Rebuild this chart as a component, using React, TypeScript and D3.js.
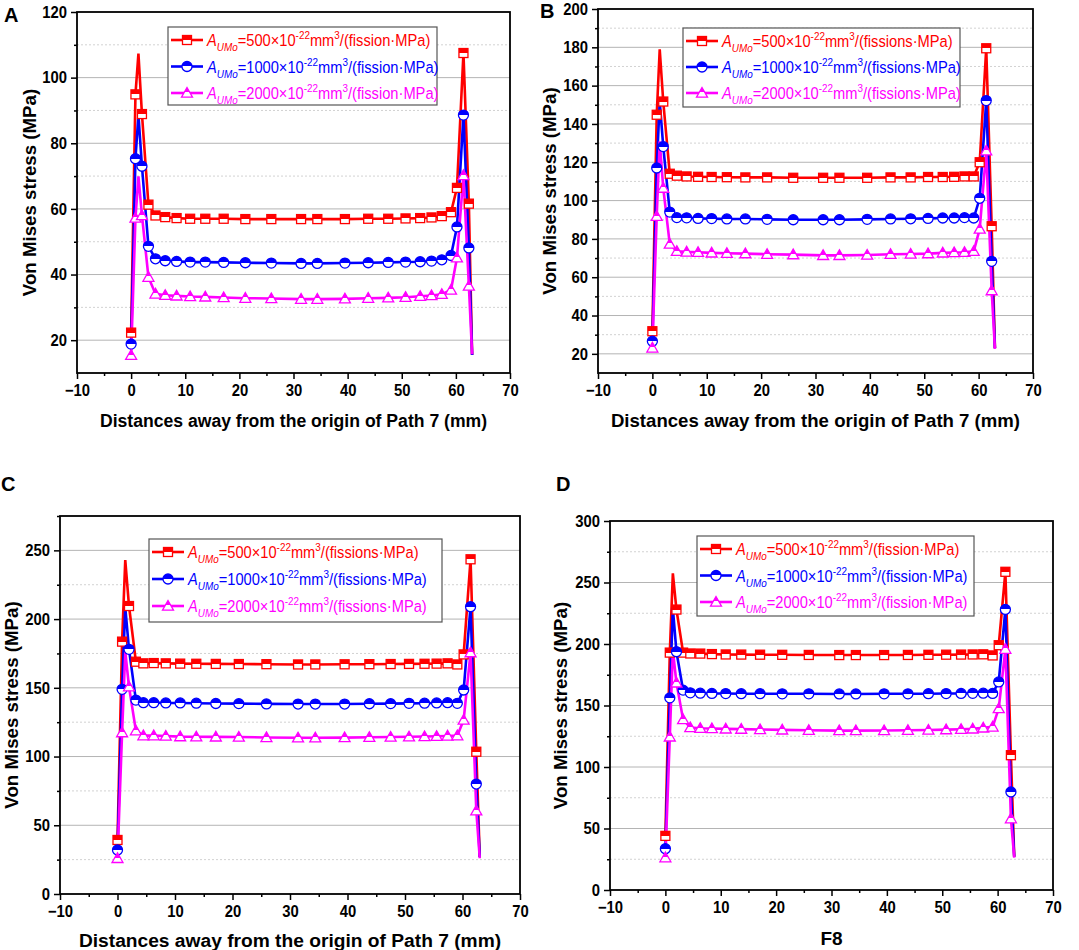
import { useRef, useEffect } from "react";
import * as d3 from "d3";

// distance along the path (mm) — shared by all panels
const xPoints = [0, 0.8, 1.35, 2, 3.2, 4.5, 6.3, 8.4, 10.9, 13.7, 17.1, 21.1, 25.9, 31.4, 34.4, 39.5, 43.8, 47.5, 50.7, 53.4, 55.5, 57.4, 59.1, 60.2, 61.4, 62.4, 63];
// points drawn by the line only (peak and end), no symbol
const noMarkerIdx = [2, 26];

const seriesColors = ["#ff0000", "#0000ff", "#ff00ff"];
const seriesShapes = ["square", "circle", "triangle"];
const aumoValues = ["500", "1000", "2000"];

// Panel A
const aRed = [22.3, 94.9, 107.3, 88.9, 61.3, 58.0, 57.5, 57.2, 57.0, 57.0, 57.0, 56.9, 56.9, 56.9, 56.9, 56.9, 57.0, 57.0, 57.1, 57.2, 57.4, 57.8, 59.0, 66.4, 107.5, 61.6, 15.5];
const aBlue = [18.8, 75.3, 88.6, 73.0, 48.6, 44.8, 44.2, 44.0, 43.8, 43.8, 43.7, 43.6, 43.5, 43.4, 43.4, 43.5, 43.6, 43.7, 43.8, 43.9, 44.1, 44.5, 45.8, 54.5, 88.6, 48.1, 15.5];
const aMagenta = [15.4, 57.2, 69.9, 58.0, 39.2, 34.1, 33.7, 33.5, 33.3, 33.2, 33.0, 32.8, 32.7, 32.5, 32.5, 32.6, 32.8, 32.9, 33.1, 33.4, 33.6, 34.0, 35.3, 45.1, 70.2, 36.5, 15.7];

// Panel B
const bRed = [31.8, 144.8, 179.0, 151.7, 114.0, 113.0, 112.6, 112.4, 112.3, 112.2, 112.1, 112.1, 111.9, 111.9, 111.9, 111.9, 112.1, 112.1, 112.3, 112.3, 112.4, 112.6, 112.6, 120.0, 179.5, 86.6, 23.0];
const bBlue = [26.6, 117.0, 151.7, 128.2, 94.0, 91.1, 91.0, 90.7, 90.6, 90.4, 90.4, 90.2, 90.0, 90.0, 90.0, 90.2, 90.4, 90.5, 90.7, 90.9, 90.9, 91.1, 90.9, 101.2, 152.2, 68.3, 23.0];
const bMagenta = [23.1, 91.8, 130.9, 106.5, 77.3, 73.5, 73.2, 73.0, 72.7, 72.5, 72.3, 72.0, 71.8, 71.4, 71.4, 71.6, 72.0, 72.1, 72.3, 72.7, 72.9, 73.0, 73.5, 85.2, 126.0, 53.0, 22.6];

// Panel C
const cRed = [39.3, 183.6, 243.0, 209.5, 169.0, 167.8, 168.0, 167.8, 167.6, 167.5, 167.4, 167.3, 167.2, 167.0, 167.0, 167.1, 167.2, 167.3, 167.4, 167.5, 167.6, 167.8, 167.0, 174.3, 243.5, 103.5, 27.0];
const cBlue = [32.0, 148.9, 208.5, 178.0, 141.1, 139.2, 139.2, 139.0, 139.0, 138.8, 138.6, 138.5, 138.3, 138.2, 138.2, 138.2, 138.4, 138.5, 138.7, 138.8, 139.0, 139.2, 138.7, 148.4, 209.0, 80.0, 27.0];
const cMagenta = [25.9, 117.4, 176.3, 150.8, 118.8, 115.2, 115.2, 114.9, 114.5, 114.4, 114.3, 114.2, 113.9, 113.7, 113.7, 113.8, 114.0, 114.2, 114.4, 114.6, 114.8, 115.0, 115.2, 126.6, 175.6, 60.6, 26.0];

// Panel D
const dRed = [44.0, 193.0, 257.4, 228.0, 193.0, 192.3, 192.2, 191.8, 191.5, 191.4, 191.3, 191.2, 191.1, 191.0, 191.0, 191.0, 191.1, 191.2, 191.3, 191.4, 191.5, 191.6, 190.7, 199.0, 258.7, 109.6, 27.0];
const dBlue = [33.6, 156.2, 229.0, 193.7, 162.5, 160.3, 160.0, 159.8, 159.7, 159.6, 159.6, 159.5, 159.5, 159.4, 159.4, 159.5, 159.5, 159.6, 159.7, 159.8, 159.9, 160.0, 159.8, 169.2, 228.1, 79.7, 27.0];
const dMagenta = [26.3, 124.5, 195.0, 168.4, 138.6, 132.1, 131.5, 131.3, 131.0, 130.8, 130.5, 130.2, 129.9, 129.6, 129.6, 129.7, 129.9, 130.1, 130.4, 130.7, 131.0, 131.8, 132.6, 147.5, 195.8, 58.0, 26.3];

const pathTitle = "Distances away from the origin of Path 7 (mm)";
const yTitle = "Von Mises stress (MPa)";
const FONT = "'Liberation Sans', Arial, sans-serif";

const panels = [
  {
    id: "A", series: [aRed, aBlue, aMagenta], unit: "fission", xTitle: pathTitle,
    yDomain: [10, 120], yMajor: d3.range(20, 121, 20), yMinor: d3.range(30, 111, 20),
    left: 77, right: 510, top: 12, bottom: 373,
    label: [4, 22], yTitleX: 29, xTitleY: 427, xTitleSize: 17.6,
    legend: { x: 168, y: 27, w: 269, h: 78, row: 26.5 },
  },
  {
    id: "B", series: [bRed, bBlue, bMagenta], unit: "fissions", xTitle: pathTitle,
    yDomain: [10, 200], yMajor: d3.range(20, 201, 20), yMinor: d3.range(30, 191, 20),
    left: 598, right: 1033, top: 9, bottom: 373,
    label: [540, 18], yTitleX: 549, xTitleY: 427, xTitleSize: 18.6,
    legend: { x: 683, y: 28, w: 277, h: 79, row: 26 },
  },
  {
    id: "C", series: [cRed, cBlue, cMagenta], unit: "fissions", xTitle: pathTitle,
    yDomain: [0, 275], yMajor: d3.range(0, 251, 50), yMinor: d3.range(25, 276, 50),
    left: 60, right: 520, top: 516, bottom: 894,
    label: [1, 491], yTitleX: 11, xTitleY: 947, xTitleSize: 19.2,
    legend: { x: 149, y: 539, w: 293, h: 83, row: 27 },
  },
  {
    id: "D", series: [dRed, dBlue, dMagenta], unit: "fission", xTitle: "F8",
    yDomain: [0, 300], yMajor: d3.range(0, 301, 50), yMinor: d3.range(25, 276, 50),
    left: 610, right: 1053, top: 521, bottom: 890,
    label: [556, 491], yTitleX: 560, xTitleY: 945, xTitleSize: 19,
    legend: { x: 697, y: 536, w: 277, h: 80, row: 26.5 },
  },
];

function drawMarker(g: any, shape: string, cx: number, cy: number, i: number) {
  const stroke = seriesColors[i];
  const fill = `url(#half-${i})`;
  if (shape === "square") {
    g.append("rect").attr("x", cx - 4.5).attr("y", cy - 4.5).attr("width", 9).attr("height", 9)
      .attr("fill", fill).attr("stroke", stroke).attr("stroke-width", 1.3);
  } else if (shape === "circle") {
    g.append("circle").attr("cx", cx).attr("cy", cy).attr("r", 5)
      .attr("fill", fill).attr("stroke", stroke).attr("stroke-width", 1.3);
  } else {
    const s = 5.5;
    g.append("path")
      .attr("d", `M${cx},${cy - s}L${cx + s},${cy + s * 0.75}L${cx - s},${cy + s * 0.75}Z`)
      .attr("fill", fill).attr("stroke", stroke).attr("stroke-width", 1.3);
  }
}

function drawPanel(root: any, p: any) {
  const g = root.append("g");
  const x = d3.scaleLinear().domain([-10, 70]).range([p.left, p.right]);
  const y = d3.scaleLinear().domain(p.yDomain).range([p.bottom, p.top]);

  // grid
  g.selectAll("line.minor").data(p.yMinor.filter((v: number) => v < p.yDomain[1])).join("line")
    .attr("x1", p.left).attr("x2", p.right).attr("y1", (d: number) => y(d)).attr("y2", (d: number) => y(d))
    .attr("stroke", "#d2d2d2").attr("stroke-width", 1).attr("stroke-dasharray", "2,2");
  g.selectAll("line.major").data(p.yMajor.filter((v: number) => v > p.yDomain[0] && v < p.yDomain[1])).join("line")
    .attr("x1", p.left).attr("x2", p.right).attr("y1", (d: number) => y(d)).attr("y2", (d: number) => y(d))
    .attr("stroke", "#b4b4b4").attr("stroke-width", 1);

  // series
  const line = d3.line<number>().x((d, i) => x(xPoints[i])).y((d) => y(d));
  p.series.forEach((vals: number[], i: number) => {
    g.append("path").attr("d", line(vals)).attr("fill", "none")
      .attr("stroke", seriesColors[i]).attr("stroke-width", 2.6).attr("stroke-linejoin", "miter");
  });
  p.series.forEach((vals: number[], i: number) => {
    const mg = g.append("g");
    vals.forEach((v, k) => {
      if (noMarkerIdx.includes(k)) return;
      drawMarker(mg, seriesShapes[i], x(xPoints[k]), y(v), i);
    });
  });

  // frame
  g.append("rect").attr("x", p.left).attr("y", p.top).attr("width", p.right - p.left).attr("height", p.bottom - p.top)
    .attr("fill", "none").attr("stroke", "#000").attr("stroke-width", 1.8);

  // y axis
  const yAxis = d3.axisLeft(y).tickValues(p.yMajor).tickSize(6).tickPadding(5).tickFormat(d3.format("d"));
  const ya = g.append("g").attr("transform", `translate(${p.left},0)`).call(yAxis);
  const yMinorAxis = d3.axisLeft(y).tickValues(p.yMinor).tickSize(3).tickFormat(() => "");
  g.append("g").attr("transform", `translate(${p.left},0)`).call(yMinorAxis).select(".domain").remove();

  // x axis
  const xAxis = d3.axisBottom(x).tickValues(d3.range(-10, 71, 10)).tickSize(6).tickPadding(5).tickFormat(d3.format("d"));
  const xa = g.append("g").attr("transform", `translate(0,${p.bottom})`).call(xAxis);
  const xMinorAxis = d3.axisBottom(x).tickValues(d3.range(-5, 66, 10)).tickSize(3).tickFormat(() => "");
  g.append("g").attr("transform", `translate(0,${p.bottom})`).call(xMinorAxis).select(".domain").remove();

  [ya, xa].forEach((a) => {
    a.select(".domain").remove();
    a.selectAll("text").attr("font-family", FONT).attr("font-weight", "bold").attr("font-size", 16.5)
      .attr("fill", "#000").attr("transform", "scale(0.9,1)");
  });
  g.selectAll(".tick line").attr("stroke", "#000").attr("stroke-width", 1.5);

  // titles
  g.append("text").attr("x", (p.left + p.right) / 2).attr("y", p.xTitleY).attr("text-anchor", "middle")
    .attr("font-family", FONT).attr("font-weight", "bold").attr("font-size", p.xTitleSize).text(p.xTitle);
  g.append("text").attr("transform", `translate(${p.yTitleX + 7},${(p.top + p.bottom) / 2}) rotate(-90)`)
    .attr("text-anchor", "middle").attr("font-family", FONT).attr("font-weight", "bold").attr("font-size", 18.7)
    .text(yTitle);
  g.append("text").attr("x", p.label[0]).attr("y", p.label[1]).attr("font-family", FONT)
    .attr("font-weight", "bold").attr("font-size", 20).text(p.id);

  // legend
  const L = p.legend;
  const lg = g.append("g");
  lg.append("rect").attr("x", L.x).attr("y", L.y).attr("width", L.w).attr("height", L.h)
    .attr("fill", "#fff").attr("stroke", "#555").attr("stroke-width", 1.2);
  aumoValues.forEach((val, i) => {
    const cy = L.y + 13 + L.row * i;
    lg.append("line").attr("x1", L.x + 3).attr("x2", L.x + 35).attr("y1", cy).attr("y2", cy)
      .attr("stroke", seriesColors[i]).attr("stroke-width", 2.6);
    drawMarker(lg, seriesShapes[i], L.x + 19, cy, i);
    const t = lg.append("text").attr("transform", `translate(${L.x + 39},${cy + 6}) scale(0.9,1)`)
      .attr("font-family", FONT).attr("font-size", 16.3).attr("fill", seriesColors[i]);
    t.append("tspan").attr("font-style", "italic").text("A");
    t.append("tspan").attr("font-style", "italic").attr("font-size", 11).attr("dy", 5).text("UMo");
    t.append("tspan").attr("dy", -5).text(`=${val}×10`);
    t.append("tspan").attr("font-size", 11).attr("dy", -7).text("-22");
    t.append("tspan").attr("dy", 7).text("mm");
    t.append("tspan").attr("font-size", 11).attr("dy", -7).text("3");
    t.append("tspan").attr("dy", 7).text(`/(${p.unit}·MPa)`);
  });
}

export default function App() {
  const svgRef = useRef<SVGSVGElement>(null);

  useEffect(() => {
    const svg = d3.select(svgRef.current);
    svg.selectAll("*").remove();
    const defs = svg.append("defs");
    seriesColors.forEach((c, i) => {
      const grad = defs.append("linearGradient").attr("id", `half-${i}`)
        .attr("x1", 0).attr("y1", 0).attr("x2", 0).attr("y2", 1);
      grad.append("stop").attr("offset", "0%").attr("stop-color", c);
      grad.append("stop").attr("offset", "50%").attr("stop-color", c);
      grad.append("stop").attr("offset", "50%").attr("stop-color", "#fff");
      grad.append("stop").attr("offset", "100%").attr("stop-color", "#fff");
    });
    panels.forEach((p) => drawPanel(svg, p));
  }, []);

  return (
    <svg ref={svgRef} width={1079} height={950}
      style={{ position: "absolute", left: 0, top: 0, background: "#fff" }} />
  );
}
